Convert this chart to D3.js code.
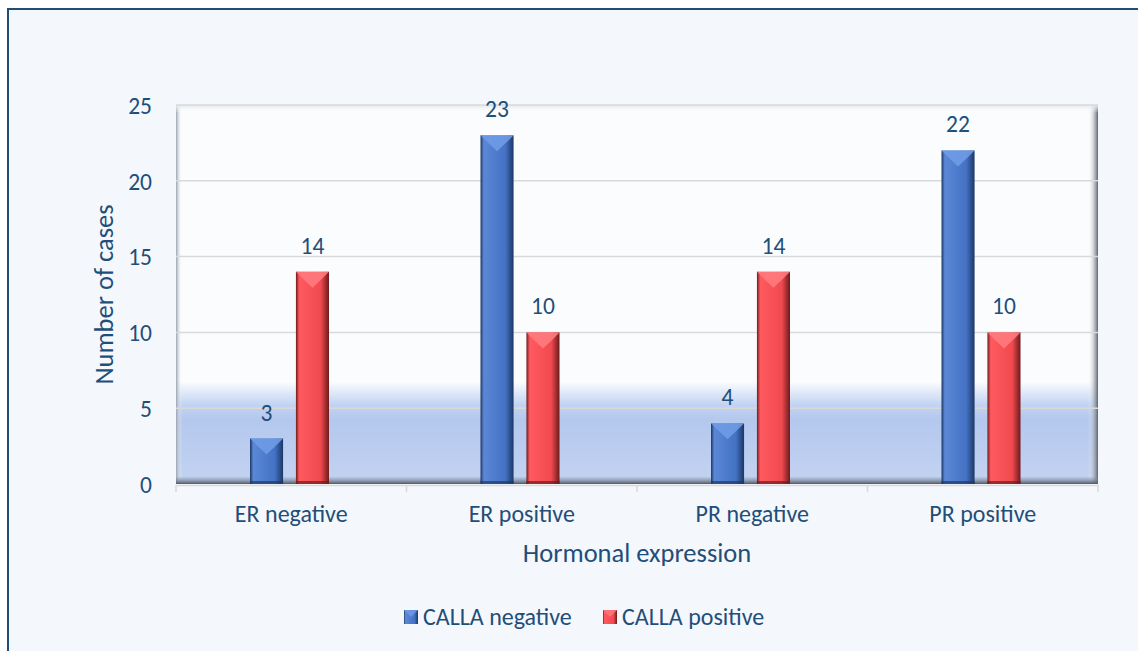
<!DOCTYPE html>
<html>
<head>
<meta charset="utf-8">
<script src="https://cdn.jsdelivr.net/npm/d3@7"></script>
<style>
  body { margin: 0; background: #ffffff; }
  svg text { font-family: Carlito, Lato, "Open Sans", sans-serif; fill: #1f4e79; }
</style>
</head>
<body>
<svg id="chart" width="1138" height="651"></svg>
<script>
// 데이터
var categories = ["ER negative", "ER positive", "PR negative", "PR positive"];
var seriesNames = ["CALLA negative", "CALLA positive"];
var callaNegative = [3, 23, 4, 22];
var callaPositive = [14, 10, 14, 10];
var yTicks = [0, 5, 10, 15, 20, 25];

var svg = d3.select("#chart");
var defs = svg.append("defs");

// 바깥 테두리
svg.append("rect")
   .attr("x", 8).attr("y", 9).attr("width", 1140).attr("height", 660)
   .attr("fill", "#f4f7fc").attr("stroke", "#1f4e79").attr("stroke-width", 2);

var pLeft = 176, pRight = 1098, pTop = 105, pBottom = 484;

var x = d3.scaleBand().domain(categories).range([pLeft, pRight]);
var y = d3.scaleLinear().domain([0, 25]).range([pBottom, pTop]);

// 뒷벽 그라데이션
var wall = defs.append("linearGradient").attr("id", "wall").attr("x1", 0).attr("y1", 0).attr("x2", 0).attr("y2", 1);
wall.append("stop").attr("offset", "0%").attr("stop-color", "#fbfcfe");
wall.append("stop").attr("offset", "73%").attr("stop-color", "#fbfcfe");
wall.append("stop").attr("offset", "79%").attr("stop-color", "#c3d4f2");
wall.append("stop").attr("offset", "83%").attr("stop-color", "#b4c8ee");
wall.append("stop").attr("offset", "100%").attr("stop-color", "#c3d3f1");

svg.append("rect")
   .attr("x", pLeft).attr("y", pTop).attr("width", pRight - pLeft).attr("height", pBottom - pTop)
   .attr("fill", "url(#wall)");

// 벽 테두리 (입체 효과)
var sideL = defs.append("linearGradient").attr("id", "sideL").attr("x1", 0).attr("x2", 1);
sideL.append("stop").attr("offset", "0%").attr("stop-color", "#9aa3b0");
sideL.append("stop").attr("offset", "100%").attr("stop-color", "#ffffff").attr("stop-opacity", 0);
var sideR = defs.append("linearGradient").attr("id", "sideR").attr("x1", 0).attr("x2", 1);
sideR.append("stop").attr("offset", "0%").attr("stop-color", "#ffffff").attr("stop-opacity", 0);
sideR.append("stop").attr("offset", "100%").attr("stop-color", "#5d6470");
var floorG = defs.append("linearGradient").attr("id", "floorG").attr("x1", 0).attr("y1", 0).attr("x2", 0).attr("y2", 1);
floorG.append("stop").attr("offset", "0%").attr("stop-color", "#8e98a8").attr("stop-opacity", 0.2);
floorG.append("stop").attr("offset", "100%").attr("stop-color", "#4f5866");
var topG = defs.append("linearGradient").attr("id", "topG").attr("x1", 0).attr("y1", 0).attr("x2", 0).attr("y2", 1);
topG.append("stop").attr("offset", "0%").attr("stop-color", "#e4e6ea");
topG.append("stop").attr("offset", "100%").attr("stop-color", "#ffffff").attr("stop-opacity", 0);

svg.append("rect").attr("x", pLeft).attr("y", pTop).attr("width", 6).attr("height", pBottom - pTop).attr("fill", "url(#sideL)");
svg.append("rect").attr("x", pRight - 10).attr("y", pTop).attr("width", 10).attr("height", pBottom - pTop).attr("fill", "url(#sideR)");
svg.append("rect").attr("x", pLeft).attr("y", pTop).attr("width", pRight - pLeft).attr("height", 8).attr("fill", "url(#topG)");

// 격자선
svg.append("g").selectAll("line").data(yTicks.slice(1)).enter().append("line")
   .attr("x1", pLeft).attr("x2", pRight)
   .attr("y1", function (d) { return y(d); }).attr("y2", function (d) { return y(d); })
   .attr("stroke", "#d9d9d9").attr("stroke-width", 1.5);

svg.append("rect").attr("x", pLeft).attr("y", pBottom - 7).attr("width", pRight - pLeft).attr("height", 7).attr("fill", "url(#floorG)");

// y축
var yAxis = svg.append("g").attr("transform", "translate(" + (pLeft - 24) + ",0)")
   .call(d3.axisLeft(y).tickValues(yTicks).tickSize(0).tickPadding(0));
yAxis.select(".domain").remove();
yAxis.selectAll("text").style("font-size", "23.5px").attr("dy", "0.35em");

// x축
var xAxis = svg.append("g").attr("transform", "translate(0," + (pBottom + 1) + ")")
   .call(d3.axisBottom(x).tickSize(0).tickPadding(20));
xAxis.select(".domain").attr("stroke", "#d9d9d9").attr("stroke-width", 1.5);
xAxis.selectAll("text").style("font-size", "24px");
svg.append("g").selectAll("line").data(categories.concat(["end"])).enter().append("line")
   .attr("x1", function (d, i) { return pLeft + i * x.bandwidth(); })
   .attr("x2", function (d, i) { return pLeft + i * x.bandwidth(); })
   .attr("y1", pBottom + 1).attr("y2", pBottom + 8)
   .attr("stroke", "#d9d9d9").attr("stroke-width", 1.5);

// 축 제목
svg.append("text").attr("x", (pLeft + pRight) / 2).attr("y", 562).attr("text-anchor", "middle")
   .style("font-size", "26.5px").text("Hormonal expression");
svg.append("text").attr("transform", "translate(113," + ((pTop + pBottom) / 2) + ") rotate(-90)")
   .attr("text-anchor", "middle").style("font-size", "26.5px").text("Number of cases");

// 막대 그라데이션
var palette = [
  { id: "blue", light: "#5b87d6", mid: "#4472c4", dark: "#1c3766", top: "#6f9be6" },
  { id: "red", light: "#ff5a5f", mid: "#f04a4f", dark: "#6e1a1c", top: "#ff7a7e" }
];
palette.forEach(function (p) {
  var g = defs.append("linearGradient").attr("id", "bar-" + p.id).attr("x1", 0).attr("x2", 1);
  g.append("stop").attr("offset", "0%").attr("stop-color", p.dark);
  g.append("stop").attr("offset", "10%").attr("stop-color", p.light);
  g.append("stop").attr("offset", "75%").attr("stop-color", p.mid);
  g.append("stop").attr("offset", "100%").attr("stop-color", p.dark);
});

// 카테고리 안에서의 막대 위치
var sub = d3.scaleBand().domain(seriesNames).range([74, 153]).paddingInner(0.28);
var series = [callaNegative, callaPositive];

series.forEach(function (vals, s) {
  var p = palette[s];
  var g = svg.append("g");
  var bars = g.selectAll("g").data(vals).enter().append("g");
  bars.append("rect")
      .attr("x", function (d, i) { return x(categories[i]) + sub(seriesNames[s]); })
      .attr("y", function (d) { return y(d); })
      .attr("width", sub.bandwidth())
      .attr("height", function (d) { return y(0) - y(d); })
      .attr("fill", "url(#bar-" + p.id + ")");
  // 위쪽 베벨
  bars.append("path")
      .attr("d", function (d, i) {
        var x0 = x(categories[i]) + sub(seriesNames[s]), w = sub.bandwidth(), y0 = y(d);
        return "M" + x0 + "," + y0 + "L" + (x0 + w) + "," + y0 + "L" + (x0 + w - 7) + "," + (y0 + 7) +
               "L" + (x0 + w / 2) + "," + (y0 + 16) + "L" + (x0 + 7) + "," + (y0 + 7) + "Z";
      })
      .attr("fill", p.top).attr("opacity", 0.9);
  // 아래쪽 그림자
  bars.append("rect")
      .attr("x", function (d, i) { return x(categories[i]) + sub(seriesNames[s]); })
      .attr("y", y(0) - 3).attr("width", sub.bandwidth()).attr("height", 3)
      .attr("fill", p.dark).attr("opacity", 0.7);
  bars.append("text")
      .attr("x", function (d, i) { return x(categories[i]) + sub(seriesNames[s]) + sub.bandwidth() / 2; })
      .attr("y", function (d) { return y(d) - 18; })
      .attr("text-anchor", "middle").style("font-size", "23.5px")
      .text(function (d) { return d; });
});

// 범례
var legend = svg.append("g").attr("transform", "translate(404,617)");
var legX = [0, 199];
seriesNames.forEach(function (name, s) {
  var lg = legend.append("g").attr("transform", "translate(" + legX[s] + ",0)");
  lg.append("rect").attr("x", 0).attr("y", -7).attr("width", 14).attr("height", 14)
    .attr("fill", "url(#bar-" + palette[s].id + ")");
  lg.append("path").attr("d", "M0,-7L14,-7L7,0Z").attr("fill", palette[s].top).attr("opacity", 0.8);
  lg.append("text").attr("x", 19).attr("y", 0).attr("dy", "0.35em").style("font-size", "24px").text(name);
});
</script>
</body>
</html>
